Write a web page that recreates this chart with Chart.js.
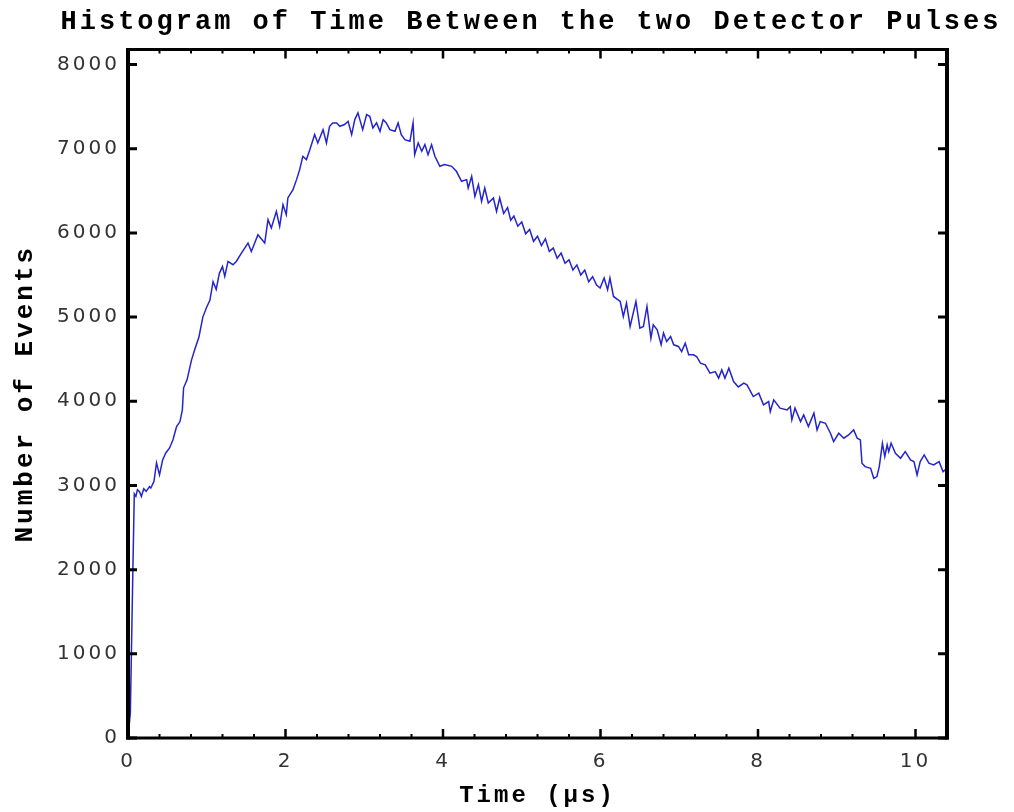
<html lang="en">
<head>
<meta charset="UTF-8">
<title>Histogram of Time Between the two Detector Pulses</title>
<style>
  html, body { margin: 0; padding: 0; background: #fff; }
  #wrap { width: 1014px; height: 812px; }
</style>
</head>
<body>
<div id="wrap"><canvas id="myChart" width="1014" height="812"></canvas></div>
<script src="https://cdn.jsdelivr.net/npm/chart.js"></script>
<script>
// time between pulses (microseconds)
const timeUs = [
  0.00, 0.03, 0.06, 0.08, 0.10, 0.12, 0.146, 0.17, 0.20, 0.23, 0.273, 0.29, 0.33, 0.362, 0.40, 0.44,
  0.48, 0.528, 0.57, 0.617, 0.66, 0.69, 0.706, 0.75, 0.807, 0.85, 0.90, 0.95, 1.00, 1.04, 1.08, 1.12,
  1.16, 1.20, 1.229, 1.27, 1.333, 1.375, 1.44, 1.524, 1.566, 1.65, 1.736, 1.778, 1.82, 1.884, 1.926, 1.968,
  2.01, 2.03, 2.095, 2.14, 2.18, 2.22, 2.266, 2.31, 2.37, 2.41, 2.477, 2.52, 2.56, 2.60, 2.65, 2.69,
  2.75, 2.795, 2.84, 2.88, 2.92, 2.98, 3.03, 3.07, 3.11, 3.156, 3.20, 3.24, 3.28, 3.325, 3.39, 3.43,
  3.47, 3.516, 3.58, 3.62, 3.64, 3.685, 3.73, 3.77, 3.81, 3.855, 3.897, 3.96, 4.02, 4.11, 4.17, 4.236,
  4.30, 4.32, 4.364, 4.405, 4.45, 4.49, 4.53, 4.575, 4.64, 4.68, 4.72, 4.77, 4.82, 4.86, 4.90, 4.95,
  5.00, 5.05, 5.10, 5.15, 5.20, 5.25, 5.30, 5.35, 5.40, 5.45, 5.50, 5.55, 5.60, 5.65, 5.70, 5.75,
  5.80, 5.85, 5.90, 5.95, 5.995, 6.046, 6.09, 6.12, 6.165, 6.25, 6.29, 6.33, 6.376, 6.45, 6.50, 6.545,
  6.59, 6.64, 6.67, 6.72, 6.77, 6.80, 6.84, 6.89, 6.93, 6.99, 7.03, 7.076, 7.12, 7.18, 7.22, 7.27,
  7.33, 7.39, 7.457, 7.50, 7.54, 7.58, 7.63, 7.69, 7.75, 7.82, 7.86, 7.94, 8.01, 8.07, 8.135, 8.156,
  8.20, 8.28, 8.37, 8.41, 8.43, 8.47, 8.54, 8.58, 8.64, 8.71, 8.75, 8.79, 8.856, 8.92, 8.96, 9.025,
  9.09, 9.15, 9.215, 9.26, 9.30, 9.32, 9.36, 9.43, 9.47, 9.51, 9.54, 9.58, 9.61, 9.64, 9.66, 9.69,
  9.745, 9.81, 9.87, 9.936, 9.98, 10.02, 10.06, 10.11, 10.17, 10.23, 10.30, 10.35, 10.40
];

// number of events per bin
const eventCounts = [
  0, 300, 1900, 2900, 2870, 2950, 2926, 2870, 2960, 2930, 2986, 2970, 3050, 3268, 3125, 3303,
  3386, 3446, 3541, 3700, 3759, 3898, 4160, 4255, 4492, 4620, 4760, 5000, 5120, 5200, 5420, 5330,
  5520, 5600, 5483, 5661, 5622, 5661, 5761, 5880, 5780, 5979, 5880, 6157, 6058, 6256, 6077, 6335,
  6216, 6415, 6514, 6633, 6752, 6910, 6871, 6990, 7168, 7069, 7227, 7069, 7267, 7307, 7307, 7267,
  7287, 7326, 7168, 7346, 7426, 7227, 7406, 7386, 7247, 7307, 7207, 7346, 7307, 7227, 7207, 7307,
  7168, 7108, 7088, 7307, 6930, 7069, 6970, 7049, 6930, 7049, 6910, 6791, 6811, 6791, 6732, 6613,
  6633, 6534, 6672, 6434, 6573, 6375, 6534, 6355, 6415, 6256, 6415, 6230, 6300, 6150, 6200, 6080,
  6130, 5990, 6040, 5900, 5960, 5850, 5930, 5780, 5820, 5700, 5760, 5640, 5680, 5560, 5620, 5500,
  5560, 5420, 5480, 5380, 5345, 5464, 5325, 5464, 5245, 5186, 5007, 5166, 4888, 5186, 4869, 4888,
  5126, 4750, 4908, 4849, 4671, 4810, 4710, 4770, 4671, 4651, 4591, 4691, 4552, 4552, 4532, 4453,
  4433, 4334, 4353, 4275, 4373, 4275, 4393, 4235, 4170, 4215, 4195, 4056, 4096, 3957, 3997, 3878,
  4017, 3918, 3898, 3937, 3779, 3918, 3759, 3838, 3699, 3859, 3660, 3759, 3739, 3620, 3521, 3620,
  3561, 3600, 3660, 3561, 3541, 3264, 3224, 3204, 3085, 3105, 3224, 3501, 3343, 3482, 3402, 3501,
  3383, 3323, 3402, 3303, 3283, 3125, 3283, 3363, 3264, 3244, 3283, 3164, 3204
];

// tick marks
const xMajorTicks = [0, 2, 4, 6, 8, 10];
const xMinorTicks = [0.4, 0.8, 1.2, 1.6, 2.4, 2.8, 3.2, 3.6, 4.4, 4.8, 5.2, 5.6, 6.4, 6.8, 7.2, 7.6, 8.4, 8.8, 9.2, 9.6, 10.4];
const yMajorTicks = [0, 1000, 2000, 3000, 4000, 5000, 6000, 7000, 8000];

const points = timeUs.map((t, i) => ({ x: t, y: eventCounts[i] }));

// frame with inward tick marks, like the original plot
const framePlugin = {
  id: 'frame',
  beforeUpdate(chart) {
    chart.ctx.letterSpacing = '3px';
  },
  beforeDraw(chart) {
    chart.ctx.letterSpacing = '3px';
  },
  afterDraw(chart) {
    const ctx = chart.ctx;
    const { left, right, top, bottom } = chart.chartArea;
    const xs = chart.scales.x, ys = chart.scales.y;
    ctx.save();
    ctx.strokeStyle = '#000';
    ctx.lineCap = 'butt';

    // ticks
    ctx.lineWidth = 2.5;
    ctx.beginPath();
    xMajorTicks.forEach(v => {
      const px = xs.getPixelForValue(v);
      ctx.moveTo(px, bottom); ctx.lineTo(px, bottom - 9);
      ctx.moveTo(px, top); ctx.lineTo(px, top + 9);
    });
    ctx.stroke();
    ctx.lineWidth = 2;
    ctx.beginPath();
    xMinorTicks.forEach(v => {
      const px = xs.getPixelForValue(v);
      ctx.moveTo(px, bottom); ctx.lineTo(px, bottom - 4);
      ctx.moveTo(px, top); ctx.lineTo(px, top + 4);
    });
    ctx.stroke();
    ctx.lineWidth = 3;
    ctx.beginPath();
    yMajorTicks.forEach(v => {
      const py = ys.getPixelForValue(v);
      ctx.moveTo(left, py); ctx.lineTo(left + 9, py);
      ctx.moveTo(right, py); ctx.lineTo(right - 9, py);
    });
    ctx.stroke();

    // box
    ctx.lineWidth = 3;
    ctx.beginPath();
    ctx.moveTo(left - 2, top); ctx.lineTo(right + 2, top);
    ctx.moveTo(left - 2, bottom); ctx.lineTo(right + 2, bottom);
    ctx.stroke();
    ctx.lineWidth = 4;
    ctx.beginPath();
    ctx.moveTo(left, top); ctx.lineTo(left, bottom + 1.5);
    ctx.moveTo(right, top); ctx.lineTo(right, bottom + 1.5);
    ctx.stroke();
    ctx.restore();
  }
};

const monoBold = '"Liberation Mono", "Courier New", monospace';

const ctx = document.getElementById('myChart').getContext('2d');
const myChart = new Chart(ctx, {
  type: 'scatter',
  data: {
    datasets: [{
      data: points,
      showLine: true,
      borderColor: '#2424cc',
      borderWidth: 1.5,
      pointRadius: 0,
      tension: 0
    }]
  },
  options: {
    responsive: false,
    animation: false,
    layout: { padding: { left: 48, right: 0, top: 0, bottom: 0 } },
    plugins: {
      legend: { display: false },
      tooltip: { enabled: false },
      title: {
        display: true,
        text: 'Histogram of Time Between the two Detector Pulses',
        color: '#000',
        font: { family: monoBold, size: 27, weight: 'bold' },
        padding: { top: 6, bottom: 11 }
      }
    },
    scales: {
      x: {
        type: 'linear',
        min: 0,
        max: 10.4,
        afterBuildTicks: s => { s.ticks = xMajorTicks.map(v => ({ value: v })); },
        afterFit: s => { s.height = 74; },
        grid: { display: false, drawTicks: false },
        border: { display: false },
        ticks: {
          color: '#333',
          padding: 12,
          callback: v => String(v),
          font: { family: '"DejaVu Sans", sans-serif', size: 20 }
        },
        title: {
          display: true,
          text: 'Time (μs)',
          color: '#000',
          font: { family: monoBold, size: 24, weight: 'bold' },
          padding: { top: 0, bottom: 2 }
        }
      },
      y: {
        type: 'linear',
        min: 0,
        max: 8180,
        afterBuildTicks: s => { s.ticks = yMajorTicks.map(v => ({ value: v })); },
        afterFit: s => { s.width = 80; },
        grid: { display: false, drawTicks: false },
        border: { display: false },
        ticks: {
          color: '#333',
          padding: 8,
          callback: v => String(v),
          font: { family: '"DejaVu Sans", sans-serif', size: 20 }
        },
        title: {
          display: true,
          text: 'Number of Events',
          color: '#000',
          font: { family: monoBold, size: 26, weight: 'bold' },
          padding: { top: -38, bottom: 0 }
        }
      },
      yRight: {
        type: 'linear',
        position: 'right',
        display: true,
        afterFit: s => { s.width = 67; },
        grid: { display: false, drawTicks: false },
        border: { display: false },
        ticks: { display: false }
      }
    }
  },
  plugins: [framePlugin]
});
</script>
</body>
</html>
